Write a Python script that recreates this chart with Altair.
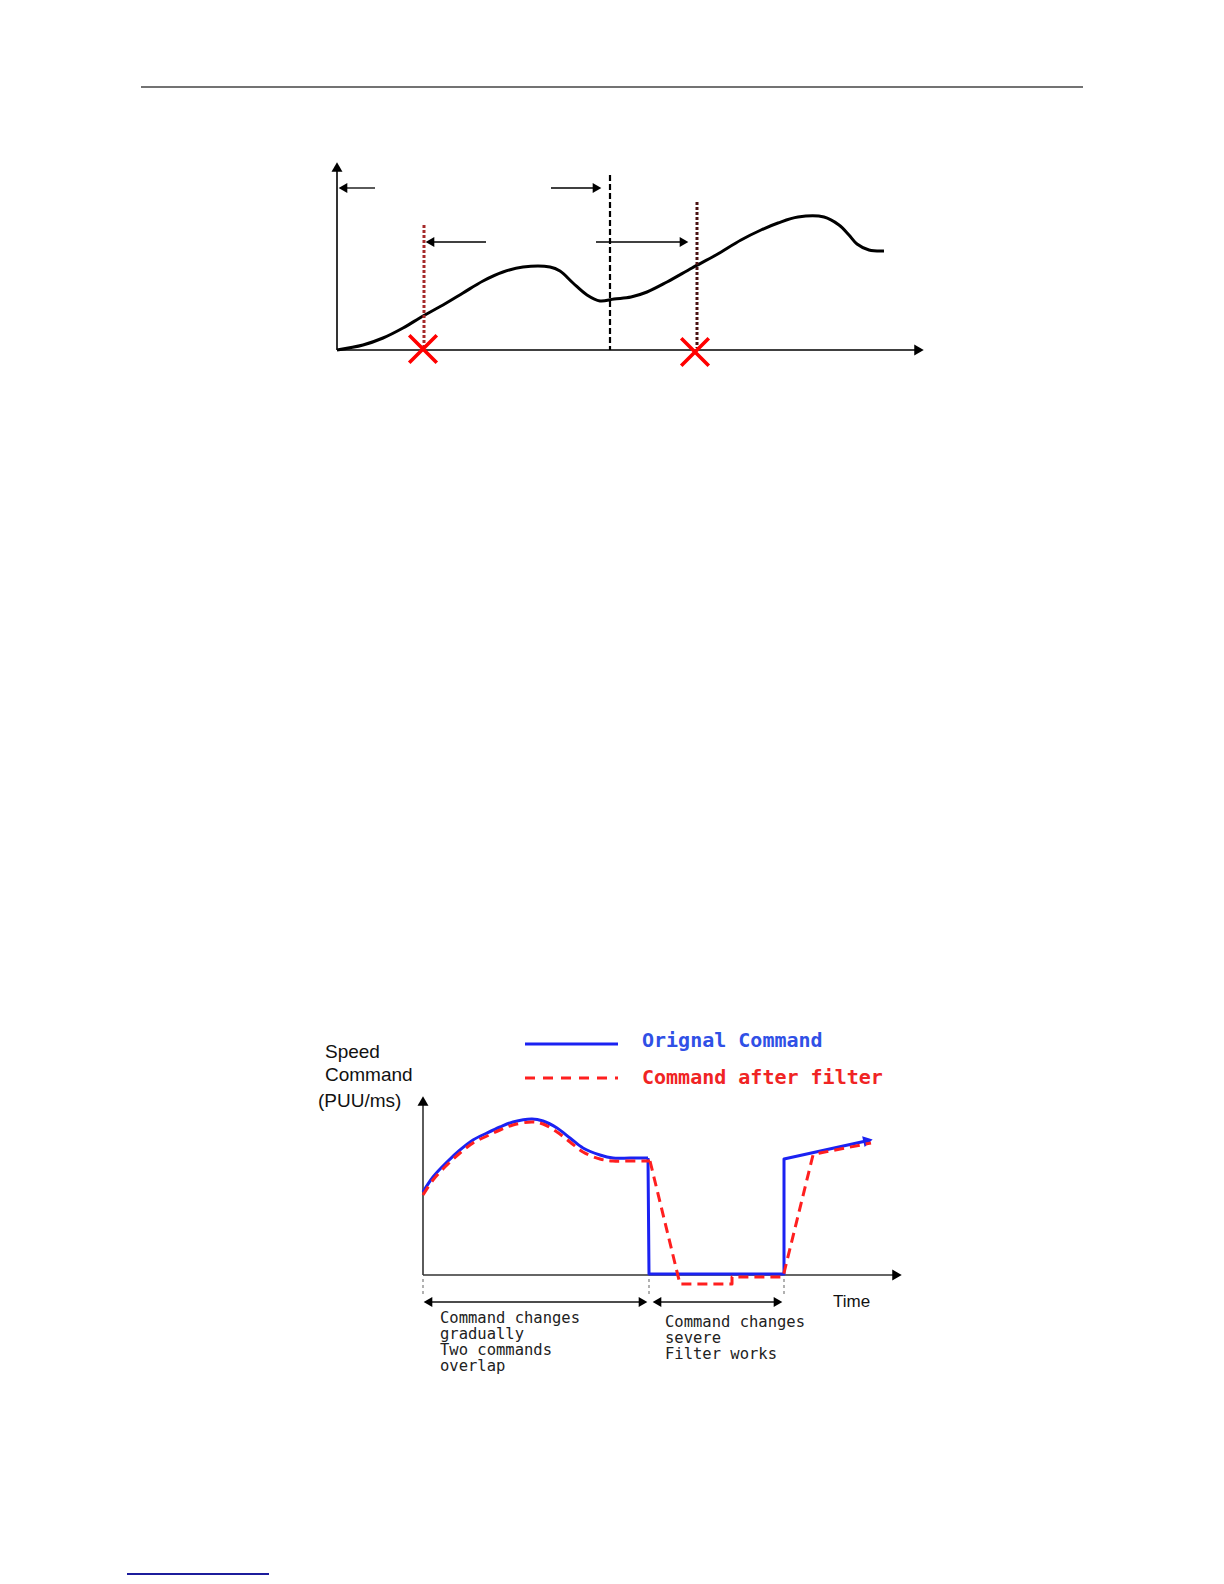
import altair as alt
import pandas as pd

W, H = 1208, 1568
xs = alt.Scale(domain=[8, 8 + W], nice=False, zero=False)
ys = alt.Scale(domain=[8, 8 + H], nice=False, zero=False, reverse=True)

# ---------------- data (page coordinates) ----------------
# page header / footer rules
header_x = [141, 1083]
header_y = 87
footer_x = [127, 269]
footer_y = 1574

# top diagram
top_axis_origin = (337, 350)
top_axis_x_end = 925
top_axis_y_end = 161
top_curve_x = [337, 363, 383, 403, 423, 443, 463, 483, 503, 523, 550, 560, 573, 587, 600, 614,
               631, 647, 667, 692, 716, 741, 761, 778, 798, 824, 839, 849, 857, 869, 884]
top_curve_y = [350, 345, 338, 328, 316, 305, 293, 281, 272, 267, 267, 271, 283, 295, 301, 299,
               297, 292, 282, 268, 255, 240, 230, 223, 217, 217, 225, 235, 244, 250, 251]
top_dash_x, top_dash_y = 610, [175, 350]
top_dot1_x, top_dot1_y = 424, [225, 348]
top_dot2_x, top_dot2_y = 697, [202, 348]
top_arrow_tail = [375, 551, 486, 596]
top_arrow_tip = [338, 602, 425, 689]
top_arrow_y = [188, 188, 242, 242]
top_cross_x = [423, 695]
top_cross_y = [349, 352]

# bottom diagram
bot_origin = (423, 1275)
bot_axis_x_end = 903
bot_axis_y_end = 1095
orig_curve_x = [423, 433, 447, 460, 473, 487, 500, 513, 532, 543, 557, 570, 583, 600, 613, 630, 648]
orig_curve_y = [1192, 1177, 1162, 1150, 1140, 1133, 1127, 1122, 1119, 1121, 1128, 1138, 1148,
                1155, 1158, 1158, 1158]
orig_poly_x = [648, 649, 784, 784, 866]
orig_poly_y = [1158, 1274, 1274, 1159, 1141]
orig_tip = (873, 1139.5)
filt_curve_x = [423, 433, 447, 460, 473, 487, 500, 513, 532, 543, 557, 570, 583, 600, 613, 630, 650]
filt_curve_y = [1195, 1180, 1165, 1153, 1143, 1136, 1130, 1125, 1122, 1124, 1132, 1142, 1152,
                1159, 1161, 1161, 1161]
filt_poly_x = [650, 680, 732, 732, 783, 813, 820, 871]
filt_poly_y = [1161, 1284, 1284, 1277, 1277, 1155, 1153, 1143]
guide_x = [423, 649, 784]
guide_y = [1279, 1297]
span_from = [423, 652]
span_to = [648, 783]
span_y = 1302

legend_line_x = [525, 618]
legend_y = [1044, 1078]
legend_labels = ["Orignal Command", "Command after filter"]
ylabel_lines = ["Speed", "Command", "(PUU/ms)"]
ylabel_x = [325, 325, 318]
ylabel_y = [1052, 1075, 1101]
note_left = ["Command changes", "gradually", "Two commands", "overlap"]
note_left_y = [1318, 1334, 1350, 1366]
note_right = ["Command changes", "severe", "Filter works"]
note_right_y = [1322, 1338, 1354]
time_label = ("Time", 833, 1302)

BLUE = "#1b22f2"
RED = "#ff1f1f"


def X(f="x"):
    return alt.X(f"{f}:Q", scale=xs, axis=None)


def Y(f="y"):
    return alt.Y(f"{f}:Q", scale=ys, axis=None)


def rules(rows, color, width, dash=None, cap="butt"):
    df = pd.DataFrame(rows, columns=["x", "x2", "y", "y2"])
    kw = dict(color=color, strokeWidth=width, strokeCap=cap)
    if dash:
        kw["strokeDash"] = dash
    return alt.Chart(df).mark_rule(**kw).encode(x=X(), x2="x2:Q", y=Y(), y2="y2:Q")


def path(xv, yv, color, width, interp, dash=None):
    df = pd.DataFrame({"x": xv, "y": yv, "i": list(range(len(xv)))})
    kw = dict(color=color, strokeWidth=width, interpolate=interp, strokeJoin="round")
    if dash:
        kw["strokeDash"] = dash
    return alt.Chart(df).mark_line(**kw).encode(x=X(), y=Y(), order="i:Q")


def heads(xv, yv, shape, size, color, angle=0):
    df = pd.DataFrame({"x": xv, "y": yv})
    return alt.Chart(df).mark_point(shape=shape, size=size, filled=True, color=color,
                                    opacity=1, strokeWidth=0, angle=angle).encode(x=X(), y=Y())


def texts(tv, xv, yv, font, size, color, weight="normal"):
    df = pd.DataFrame({"x": xv, "y": yv, "t": tv})
    return alt.Chart(df).mark_text(align="left", baseline="middle", font=font, fontSize=size,
                                   fontWeight=weight, color=color).encode(x=X(), y=Y(), text="t:N")


layers = []

# page header / footer
layers.append(rules([[header_x[0], header_x[1], header_y, header_y]], "#444444", 1.5))
layers.append(rules([[footer_x[0], footer_x[1], footer_y, footer_y]], "#1c1c9c", 2))

# ---------------- top diagram ----------------
ox, oy = top_axis_origin
layers.append(rules([[ox, top_axis_x_end - 8, oy, oy], [ox, ox, oy, top_axis_y_end + 8]], "#000000", 1.6))
layers.append(heads([top_axis_x_end - 6], [oy], "triangle-right", 120, "#000000"))
layers.append(heads([ox], [top_axis_y_end + 6], "triangle-up", 120, "#000000"))
layers.append(path(top_curve_x, top_curve_y, "#000000", 3, "catmull-rom"))
layers.append(rules([[top_dash_x, top_dash_x, top_dash_y[0], top_dash_y[1]]], "#000000", 2.2, [6, 3]))
layers.append(rules([[top_dot1_x, top_dot1_x, top_dot1_y[0], top_dot1_y[1]]], "#a52a2a", 3, [3, 2]))
layers.append(rules([[top_dot2_x, top_dot2_x, top_dot2_y[0], top_dot2_y[1]]], "#4a1212", 3, [3, 2]))
arrow_rows = []
for tl, tp, yy in zip(top_arrow_tail, top_arrow_tip, top_arrow_y):
    inner = tp + 8 if tp < tl else tp - 8
    arrow_rows.append([tl, inner, yy, yy])
layers.append(rules(arrow_rows, "#000000", 1.3))
lx = [tp + 5 for tp, tl in zip(top_arrow_tip, top_arrow_tail) if tp < tl]
ly = [yy for tp, tl, yy in zip(top_arrow_tip, top_arrow_tail, top_arrow_y) if tp < tl]
rx = [tp - 5 for tp, tl in zip(top_arrow_tip, top_arrow_tail) if tp > tl]
ry = [yy for tp, tl, yy in zip(top_arrow_tip, top_arrow_tail, top_arrow_y) if tp > tl]
layers.append(heads(lx, ly, "triangle-left", 100, "#000000"))
layers.append(heads(rx, ry, "triangle-right", 100, "#000000"))
cross_df = pd.DataFrame({"x": top_cross_x, "y": top_cross_y})
layers.append(alt.Chart(cross_df).mark_point(shape="M -1 -1 L 1 1 M 1 -1 L -1 1", size=760,
                                             filled=False, color="#ff0000", strokeWidth=3.6,
                                             opacity=1).encode(x=X(), y=Y()))

# ---------------- bottom diagram ----------------
bx, by = bot_origin
layers.append(rules([[bx, bot_axis_x_end - 8, by, by], [bx, bx, by, bot_axis_y_end + 8]], "#333333", 1.6))
layers.append(heads([bot_axis_x_end - 6], [by], "triangle-right", 120, "#000000"))
layers.append(heads([bx], [bot_axis_y_end + 6], "triangle-up", 120, "#000000"))

layers.append(path(orig_curve_x, orig_curve_y, BLUE, 3, "catmull-rom"))
layers.append(path(orig_poly_x, orig_poly_y, BLUE, 3, "linear"))
layers.append(heads([orig_tip[0] - 5], [orig_tip[1] + 1], "triangle-right", 120, BLUE, angle=347))
layers.append(path(filt_curve_x, filt_curve_y, RED, 3, "catmull-rom", [10, 6]))
layers.append(path(filt_poly_x, filt_poly_y, RED, 3, "linear", [10, 6]))

layers.append(rules([[g, g, guide_y[0], guide_y[1]] for g in guide_x], "#888888", 1.3, [3, 3]))
layers.append(rules([[a + 7, b - 7, span_y, span_y] for a, b in zip(span_from, span_to)], "#111111", 1.5))
layers.append(heads([a + 5 for a in span_from], [span_y] * 2, "triangle-left", 100, "#000000"))
layers.append(heads([b - 5 for b in span_to], [span_y] * 2, "triangle-right", 100, "#000000"))

# legend
layers.append(rules([[legend_line_x[0], legend_line_x[1], legend_y[0], legend_y[0]]], BLUE, 3))
layers.append(rules([[legend_line_x[0], legend_line_x[1], legend_y[1], legend_y[1]]], RED, 3, [10, 8]))
layers.append(texts([legend_labels[0]], [642], [legend_y[0] - 3], "DejaVu Sans Mono", 20, "#3050e6", "bold"))
layers.append(texts([legend_labels[1]], [642], [legend_y[1]], "DejaVu Sans Mono", 20, "#f02424", "bold"))

layers.append(texts(ylabel_lines, ylabel_x, ylabel_y, "Liberation Sans", 19, "#111111"))
layers.append(texts(note_left, [440] * 4, note_left_y, "DejaVu Sans Mono", 15.5, "#222222"))
layers.append(texts(note_right, [665] * 3, note_right_y, "DejaVu Sans Mono", 15.5, "#222222"))
layers.append(texts([time_label[0]], [time_label[1]], [time_label[2]], "Liberation Sans", 17, "#111111"))

chart = alt.layer(*layers).properties(
    width=W, height=H, padding=0, background="white",
    autosize=alt.AutoSizeParams(type="none"),
).configure_view(stroke=None)

chart.save("out.html", embed_options={"renderer": "svg", "actions": False})
